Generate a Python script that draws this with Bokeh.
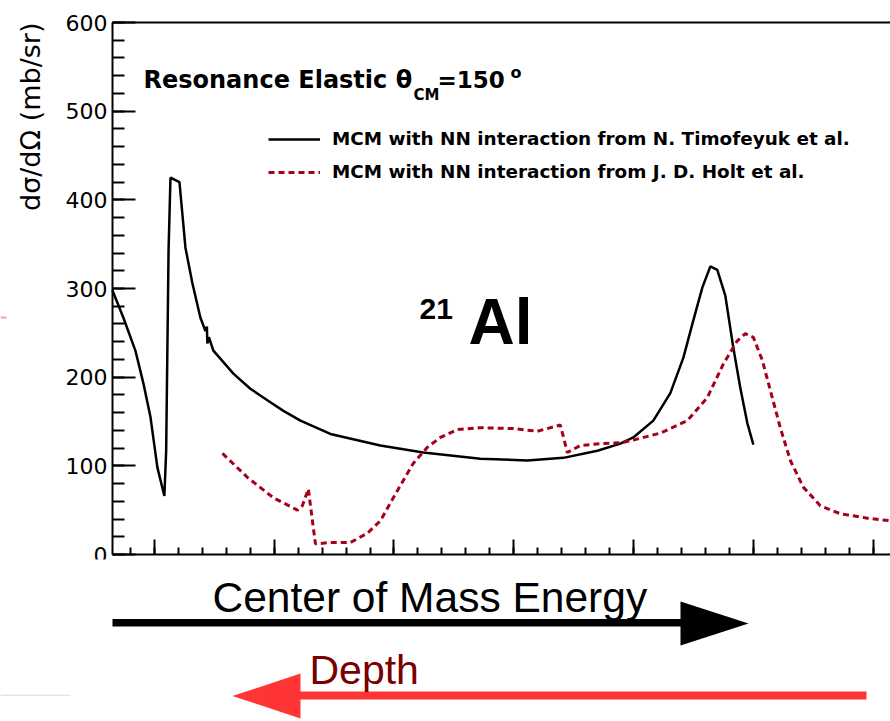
from bokeh.plotting import figure
from bokeh.models import (LinearAxis, SingleIntervalTicker, FixedTicker, CustomJSTickFormatter,
                          Label, PolyAnnotation, Legend, LegendItem, Range1d)
from bokeh.embed import file_html
from bokeh.resources import INLINE

# Resonance elastic cross section at theta_CM = 150 deg for 21Al (arbitrary energy units)
energy_timofeyuk = [0.649, 0.741, 0.841, 0.908, 0.967, 1.025, 1.083, 1.098, 1.118, 1.134,
                    1.209, 1.259, 1.317, 1.384, 1.426, 1.438, 1.442, 1.455, 1.492, 1.659,
                    1.801, 1.943, 2.077, 2.219, 2.469, 2.886, 3.245, 3.721, 4.114, 4.414,
                    4.698, 4.890, 4.998, 5.165, 5.307, 5.416, 5.499, 5.574, 5.641, 5.699,
                    5.766, 5.833, 5.891, 5.950, 6.000]
xsec_timofeyuk = [298, 267, 230, 193, 155, 98, 66, 117, 343, 425,
                  420, 346, 306, 267, 252, 257, 238, 245, 230, 204,
                  187, 174, 162, 151, 136, 123, 115, 108, 106, 109,
                  117, 125, 132, 151, 182, 222, 264, 301, 325, 321,
                  292, 233, 188, 148, 124]

energy_holt = [1.568, 1.776, 1.993, 2.194, 2.235, 2.285, 2.319, 2.344, 2.469,
               2.636, 2.778, 2.886, 3.028, 3.162, 3.279, 3.387, 3.529, 3.721, 3.997,
               4.197, 4.389, 4.447, 4.556, 4.723, 4.890, 4.998, 5.224, 5.449, 5.616,
               5.750, 5.866, 5.933, 6.000, 6.075, 6.142, 6.225, 6.309, 6.417, 6.559,
               6.726, 6.952, 7.144, 7.300]
xsec_holt = [114, 87, 64, 50, 55, 74, 38, 12, 13.5,
             13.5, 24, 38, 72, 103, 121, 132, 141, 143, 142,
             139, 146, 115, 123, 125, 126, 129, 137, 151, 177,
             215, 241, 249, 245, 219, 185, 143, 106, 76, 55,
             46, 41, 38, 36]

legend_labels = ["MCM with NN interaction from N. Timofeyuk et al.",
                 "MCM with NN interaction from J. D. Holt et al."]

# plot area inside the 890x721 canvas (pixels) and its data limits
W, H = 890, 721
LEFT, TOP, FW, FH = 112, 22, 778, 532
X0, X1 = 0.65, 7.145
Y0, Y1 = 0.0, 600.0

HOLT_RED = "#a5001c"


def cx(px):
    """canvas pixel column -> data x"""
    return X0 + (px - LEFT) / FW * (X1 - X0)


def cy(py):
    """canvas pixel row -> data y"""
    return Y0 + (TOP + FH - py) / FH * (Y1 - Y0)


# the frame covers the whole canvas; axes are pinned at the plot-area edges
p = figure(width=W, height=H,
           x_range=Range1d(cx(0), cx(W)), y_range=Range1d(cy(H), cy(0)),
           x_axis_location=None, y_axis_location=None,
           output_backend="svg", toolbar_location=None,
           min_border=0)
p.outline_line_color = None
p.background_fill_color = "white"
p.border_fill_color = "white"
p.grid.visible = False

# axes: ROOT-like inward ticks
yax = LinearAxis(ticker=SingleIntervalTicker(interval=100, num_minor_ticks=5),
                 fixed_location=X0, bounds=(Y0, Y1))
yax.axis_line_width = 2
yax.major_tick_in, yax.major_tick_out = 23, 0
yax.minor_tick_in, yax.minor_tick_out = 12, 0
yax.major_tick_line_width = 2
yax.minor_tick_line_width = 2
yax.major_label_text_font = "DejaVu Sans"
yax.major_label_text_font_size = "22px"
yax.major_label_text_color = "black"
yax.major_label_standoff = 5
p.add_layout(yax, "left")

xax = LinearAxis(ticker=SingleIntervalTicker(interval=1, num_minor_ticks=5),
                 formatter=CustomJSTickFormatter(code="return ''"),
                 fixed_location=Y0, bounds=(X0, X1))
xax.axis_line_width = 2
xax.major_tick_in, xax.major_tick_out = 15, 0
xax.minor_tick_in, xax.minor_tick_out = 7, 0
xax.major_tick_line_width = 2
xax.minor_tick_line_width = 2
xax.major_label_standoff = 0
p.add_layout(xax, "below")

top = LinearAxis(ticker=FixedTicker(ticks=[]),
                 formatter=CustomJSTickFormatter(code="return ''"),
                 fixed_location=Y1, bounds=(X0, X1))
top.axis_line_width = 2
top.major_tick_line_color = None
top.minor_tick_line_color = None
top.major_label_standoff = 0
p.add_layout(top, "above")

# curves
r1 = p.line(energy_timofeyuk, xsec_timofeyuk, line_color="black", line_width=2.5)
r2 = p.line(energy_holt, xsec_holt, line_color=HOLT_RED, line_width=3, line_dash="6 4")

legend = Legend(items=[LegendItem(label=legend_labels[0], renderers=[r1]),
                       LegendItem(label=legend_labels[1], renderers=[r2])],
                location=(268, H - 182), glyph_width=52, glyph_height=20,
                label_standoff=12, label_text_font="DejaVu Sans",
                label_text_font_style="bold", label_text_font_size="18.4px",
                label_text_color="black",
                spacing=12, padding=0, margin=0,
                border_line_color=None, background_fill_alpha=0)
p.add_layout(legend)


def add_text(px, py, text, size, font="DejaVu Sans", style="normal", color="black", **kw):
    """text anchored at its vertical middle, placed by canvas pixel"""
    p.add_layout(Label(x=cx(px), y=cy(py), text=text, text_font=font,
                       text_font_style=style, text_font_size=size, text_color=color,
                       text_baseline="middle", **kw))


def add_shape(points, colour):
    """filled polygon placed by canvas pixel"""
    p.add_layout(PolyAnnotation(xs=[cx(a) for a, b in points], ys=[cy(b) for a, b in points],
                                fill_color=colour, fill_alpha=1, line_color=None))


# y axis title, aligned to the top of the axis
add_text(30, 22, "dσ/dΩ (mb/sr)", "27px", angle=1.5707963, text_align="right")

# title with subscript / superscript pieces
add_text(143, 79, "Resonance Elastic θ", "24px", style="bold")
add_text(413, 94.5, "CM", "15px", style="bold")
add_text(437, 79, "=150", "23px", style="bold")
add_text(510, 72, "o", "16px", style="bold")

# nucleus label
add_text(419, 308, "21", "30px", font="Liberation Sans", style="bold")
add_text(468, 321, "Al", "64px", font="Liberation Sans", style="bold")

# white strip of the slide overlapping the bottom of the "0" tick label
add_shape([(60, 559), (110, 559), (110, 575), (60, 575)], "white")

# direction arrows under the axis
add_shape([(112, 618.5), (680, 618.5), (680, 601), (748, 623),
           (680, 645), (680, 626), (112, 626)], "black")
add_shape([(866, 691), (300, 691), (300, 673), (232, 695.5),
           (300, 718), (300, 699), (866, 699)], "#ff3535")

# faint slide marks at the left edge
add_shape([(0, 316), (6, 316), (6, 318), (0, 318)], "#f4a0a8")
add_shape([(0, 694), (70, 694), (70, 695.5), (0, 695.5)], "#e6e6e6")

add_text(212, 597, "Center of Mass Energy", "42.5px", font="Liberation Sans")
add_text(309, 669, "Depth", "41px", font="Liberation Sans", color="#7a0000")

open("out.html", "w").write(file_html(p, INLINE))
